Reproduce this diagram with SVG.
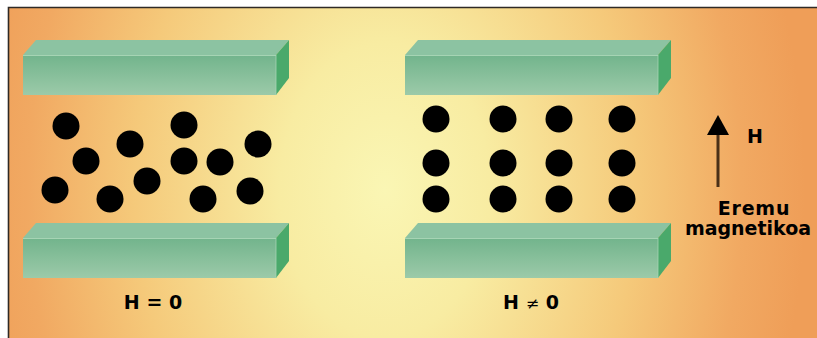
<svg xmlns="http://www.w3.org/2000/svg" width="817" height="338" viewBox="0 0 817 338">
  <defs>
    <radialGradient id="bg" gradientUnits="userSpaceOnUse" cx="385" cy="190" r="420" gradientTransform="translate(385 190) scale(1 1.4) translate(-385 -190)">
      <stop offset="0" stop-color="#faf6b4"/>
      <stop offset="0.25" stop-color="#f8eca2"/>
      <stop offset="0.6" stop-color="#f5c97a"/>
      <stop offset="0.85" stop-color="#f1a962"/>
      <stop offset="1" stop-color="#ef9e58"/>
    </radialGradient>
    <linearGradient id="front" x1="0" y1="0" x2="0" y2="1">
      <stop offset="0" stop-color="#72b48c"/>
      <stop offset="1" stop-color="#9ccaa9"/>
    </linearGradient>
    <g id="bar">
      <!-- top face -->
      <polygon points="0,15 13,0 266,0 253,15" fill="#8cc3a2"/>
      <!-- right face -->
      <polygon points="253,15 266,0 266,38 253,55" fill="#4aa96b"/>
      <!-- front face -->
      <rect x="0" y="15" width="253" height="40" fill="url(#front)"/>
      <line x1="0" y1="15.5" x2="253" y2="15.5" stroke="#a6d4b4" stroke-width="1"/>
      <line x1="253" y1="15" x2="253" y2="55" stroke="#a6d4b4" stroke-width="0.8"/>
    </g>
  </defs>
  <style>
    .dot { fill: #000; }
    .lbl { font-family: "DejaVu Sans", Verdana, sans-serif; font-weight: bold; font-size: 19px; fill: #000; }
  </style>

  <!-- page and frame -->
  <rect x="0" y="0" width="817" height="338" fill="#fff"/>
  <rect x="8" y="7" width="809" height="331" fill="url(#bg)"/>
  <path d="M8.5,338 V7.5 H817" fill="none" stroke="#2f2a26" stroke-width="1.6"/>

  <!-- H = 0 : plates and random particles -->
  <g id="plate-left-top"><use href="#bar" x="23" y="40"/></g>
  <g id="plate-left-bottom"><use href="#bar" x="23" y="223"/></g>
  <g id="particles-random">
    <circle class="dot" cx="66" cy="126" r="13.5"/>
    <circle class="dot" cx="130" cy="144" r="13.5"/>
    <circle class="dot" cx="184" cy="125" r="13.5"/>
    <circle class="dot" cx="258" cy="144" r="13.5"/>
    <circle class="dot" cx="86" cy="161" r="13.5"/>
    <circle class="dot" cx="184" cy="161" r="13.5"/>
    <circle class="dot" cx="220" cy="162" r="13.5"/>
    <circle class="dot" cx="147" cy="181" r="13.5"/>
    <circle class="dot" cx="55" cy="190" r="13.5"/>
    <circle class="dot" cx="110" cy="199" r="13.5"/>
    <circle class="dot" cx="203" cy="199" r="13.5"/>
    <circle class="dot" cx="250" cy="191" r="13.5"/>
  </g>
  <g id="label-h0"><text class="lbl" x="153" y="309" text-anchor="middle" font-size="20">H = 0</text></g>

  <!-- H ≠ 0 : plates and aligned particles -->
  <g id="plate-right-top"><use href="#bar" x="405" y="40"/></g>
  <g id="plate-right-bottom"><use href="#bar" x="405" y="223"/></g>
  <g id="particles-aligned">
    <circle class="dot" cx="436" cy="119" r="13.5"/>
    <circle class="dot" cx="503" cy="119" r="13.5"/>
    <circle class="dot" cx="559" cy="119" r="13.5"/>
    <circle class="dot" cx="622" cy="119" r="13.5"/>
    <circle class="dot" cx="436" cy="163" r="13.5"/>
    <circle class="dot" cx="503" cy="163" r="13.5"/>
    <circle class="dot" cx="559" cy="163" r="13.5"/>
    <circle class="dot" cx="622" cy="163" r="13.5"/>
    <circle class="dot" cx="436" cy="199" r="13.5"/>
    <circle class="dot" cx="503" cy="199" r="13.5"/>
    <circle class="dot" cx="559" cy="199" r="13.5"/>
    <circle class="dot" cx="622" cy="199" r="13.5"/>
  </g>
  <g id="label-h1"><text class="lbl" x="531" y="309" text-anchor="middle" font-size="20">H <tspan font-weight="normal" font-size="16">≠</tspan> 0</text></g>

  <!-- field arrow -->
  <g id="connectors">
    <line x1="718" y1="187" x2="718" y2="132" stroke="#4a3018" stroke-width="3"/>
    <polygon points="718,115 729,135 707,135" fill="#000"/>
  </g>
  <g id="field-label">
    <text class="lbl" x="747" y="143">H</text>
    <text class="lbl" x="754" y="215" text-anchor="middle" font-size="21" letter-spacing="0.8">Eremu</text>
    <text class="lbl" x="748" y="235" text-anchor="middle">magnetikoa</text>
  </g>
</svg>
